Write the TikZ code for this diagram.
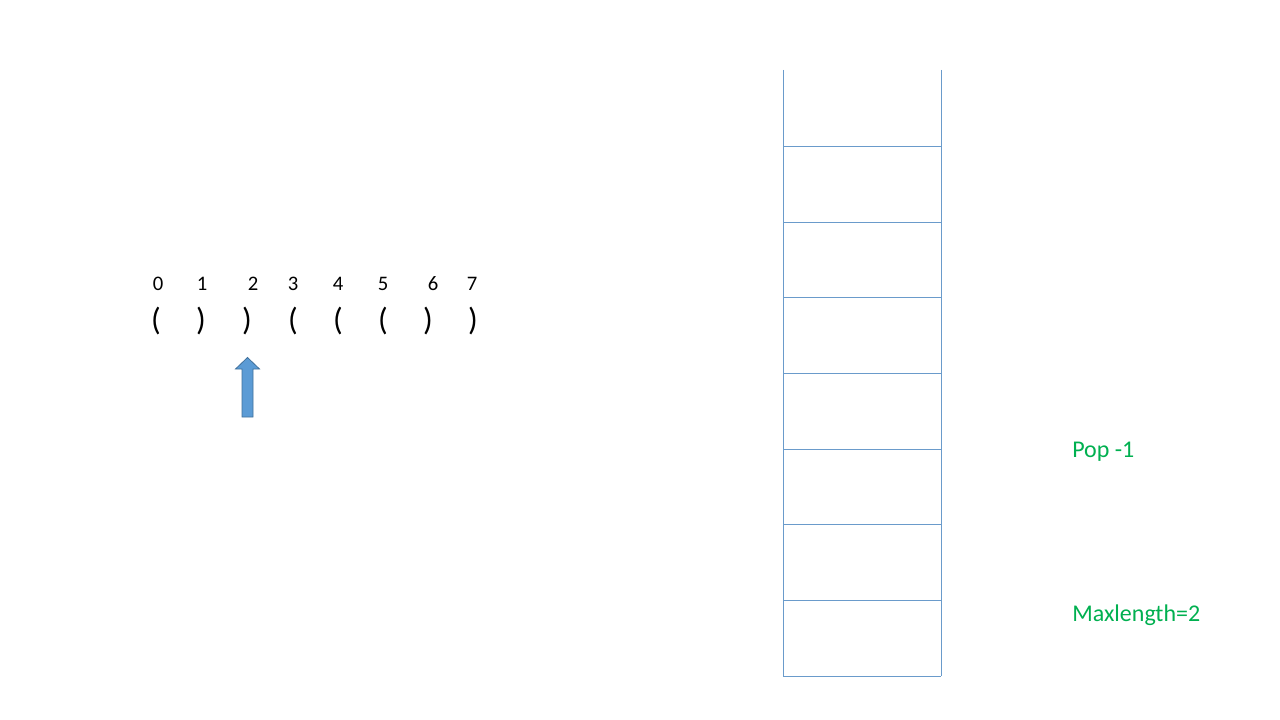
\documentclass[tikz,border=0pt]{standalone}
\usepackage{fontspec}
\setmainfont{Carlito}
\usepackage{xcolor}
\usepackage{tikz}
\definecolor{bg}{HTML}{FFFFFF}
\definecolor{stackline}{HTML}{6A9BCB}
\definecolor{arrowfill}{HTML}{5B9BD5}
\definecolor{arrowedge}{HTML}{41719C}
\definecolor{note}{HTML}{00B050}
\newcommand{\opn}{(}
\newcommand{\cls}{)}
\tikzset{
  cell/.style={draw=stackline, line width=0.6pt},
  ptr/.style={fill=arrowfill, draw=arrowedge, line width=0.6pt, line join=miter},
  idx/.style={inner sep=0pt, font=\fontsize{15.5}{18}\selectfont, anchor=base},
  par/.style={inner sep=0pt, font=\fontsize{24}{28}\selectfont},
  lab/.style={inner sep=0pt, text=note, font=\fontsize{18}{22}\selectfont, anchor=base west},
}
\begin{document}
\begin{tikzpicture}[x=0.75pt,y=-0.75pt]
  \useasboundingbox[fill=bg] (0,0) rectangle (1280,720);
  % indices and brackets
  \foreach \i/\x in {0/158,1/202,2/253,3/293,4/338,5/383,6/433,7/472}{
    \node[idx] (i\i) at (\x,290) {\i};
  }
  \foreach \c/\x [count=\k from 0] in {\opn/156,\cls/201,\cls/247,\opn/293,\opn/338,\opn/383,\cls/428,\cls/473}{
    \node[par] (p\k) at (\x,321.5) {\c};
  }
  % pointer
  \draw[ptr] (242,417) -- (242,369) -- (235.5,369) -- (247.5,357.5) -- (259.5,369)
    -- (253,369) -- (253,417) -- cycle;
  % stack
  \draw[cell] (783,70) -- (783,676) (941,70) -- (941,676);
  \foreach \y in {146,222,297,373,449,524,600,676}{
    \draw[cell] (783,\y) -- (941,\y);
  }
  \node[lab] (pop) at (1072,457) {Pop -1};
  \node[lab] (maxlen) at (1072,621) {Maxlength=2};
\end{tikzpicture}
\end{document}
